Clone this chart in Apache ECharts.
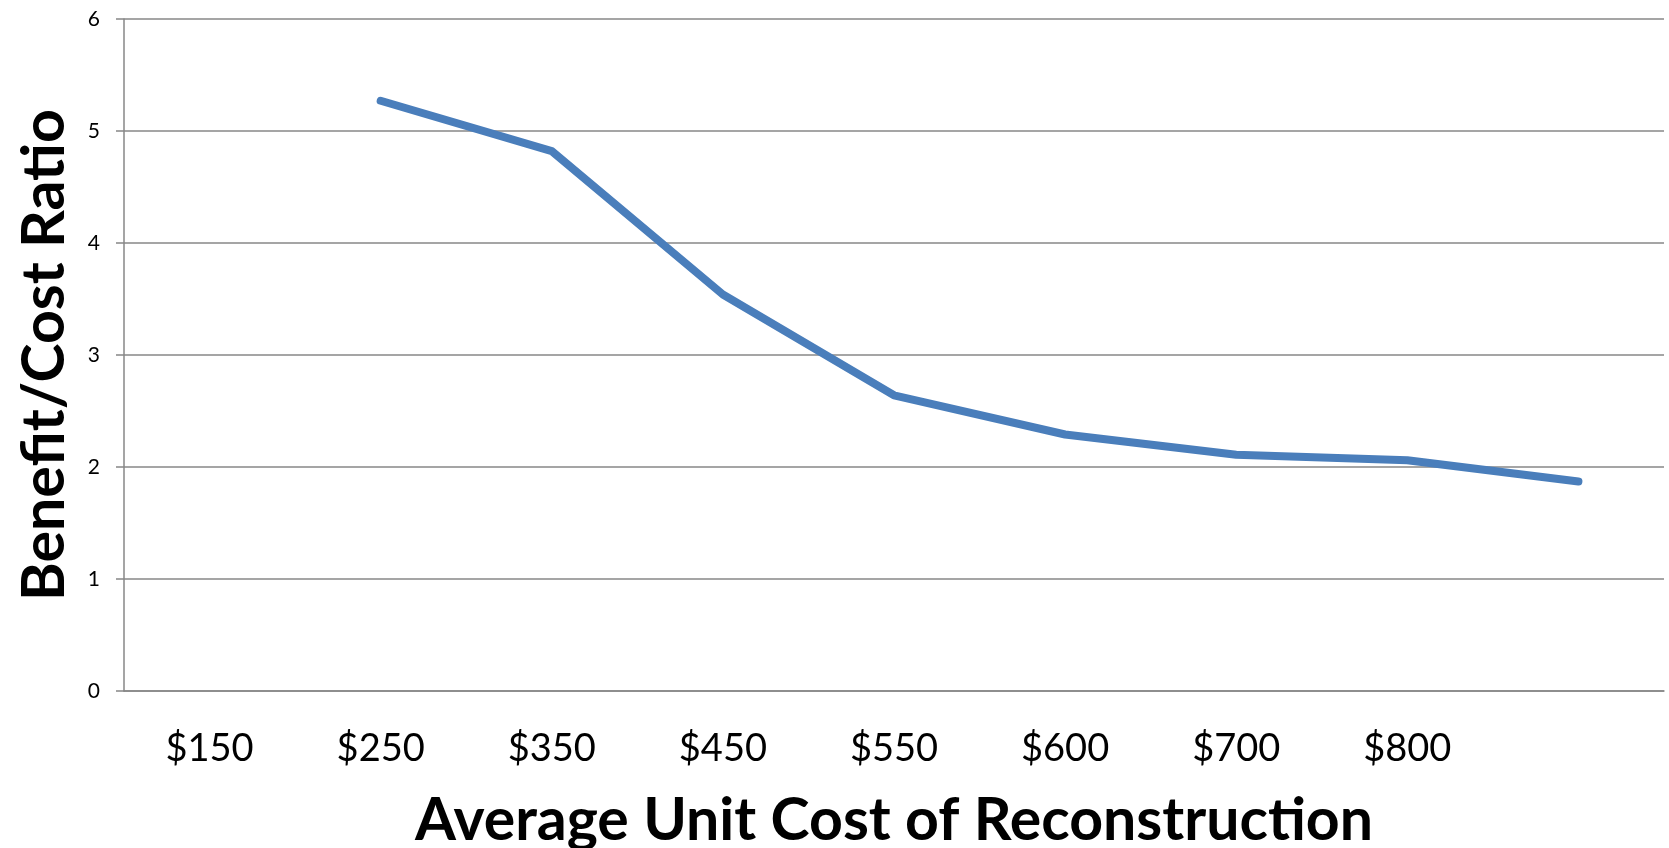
<!DOCTYPE html>
<html>
<head>
<meta charset="utf-8">
<script src="https://cdn.jsdelivr.net/npm/echarts@6/dist/echarts.min.js"></script>
<style>
html, body { margin: 0; padding: 0; background: #fff; }
#chart { width: 1669px; height: 848px; }
</style>
</head>
<body>
<div id="chart"></div>
<script>
// x categories (last slot has no label in the original)
var costLabels = ['$150', '$250', '$350', '$450', '$550', '$600', '$700', '$800', '']
// benefit/cost ratio, first slot empty
var ratios = [null, 5.27, 4.82, 3.54, 2.64, 2.29, 2.11, 2.06, 1.87]
var yTicks = [0, 1, 2, 3, 4, 5, 6]

var gray = '#878787'
var chart = echarts.init(document.getElementById('chart'))
var option = {
  animation: false,
  textStyle: { fontFamily: 'Lato' },
  grid: {
    left: 124,
    right: 5,
    top: 19,
    bottom: 157,
    containLabel: false,
    outerBoundsMode: 'none'
  },
  xAxis: {
    type: 'category',
    data: costLabels,
    boundaryGap: true,
    name: 'Average Unit Cost of Reconstruction',
    nameLocation: 'middle',
    nameGap: 100,
    nameTextStyle: { fontSize: 59, fontWeight: 'bold', color: '#000', fontFamily: 'Lato' },
    axisLine: { lineStyle: { color: gray, width: 1.5 } },
    axisTick: { length: 13, interval: 0, lineStyle: { color: gray, width: 1.5 } },
    axisLabel: { fontSize: 38, color: '#000', margin: 39, interval: 0 },
    splitLine: { show: false }
  },
  yAxis: {
    type: 'value',
    min: yTicks[0],
    max: yTicks[yTicks.length - 1],
    interval: 1,
    name: 'Benefit/Cost Ratio',
    nameLocation: 'middle',
    nameGap: 50,
    nameTextStyle: { fontSize: 59, fontWeight: 'bold', color: '#000', fontFamily: 'Lato' },
    axisLine: { show: true, lineStyle: { color: gray, width: 1.5 } },
    axisTick: { show: true, length: 8, lineStyle: { color: gray, width: 1.5 } },
    axisLabel: { fontSize: 21, color: '#000', margin: 24 },
    splitLine: { show: true, lineStyle: { color: gray, width: 1.5 } }
  },
  series: [
    {
      type: 'line',
      data: ratios,
      showSymbol: false,
      symbol: 'none',
      lineStyle: { color: '#4a7ebb', width: 8, cap: 'round', join: 'round' }
    }
  ]
}
chart.setOption(option)
</script>
</body>
</html>
